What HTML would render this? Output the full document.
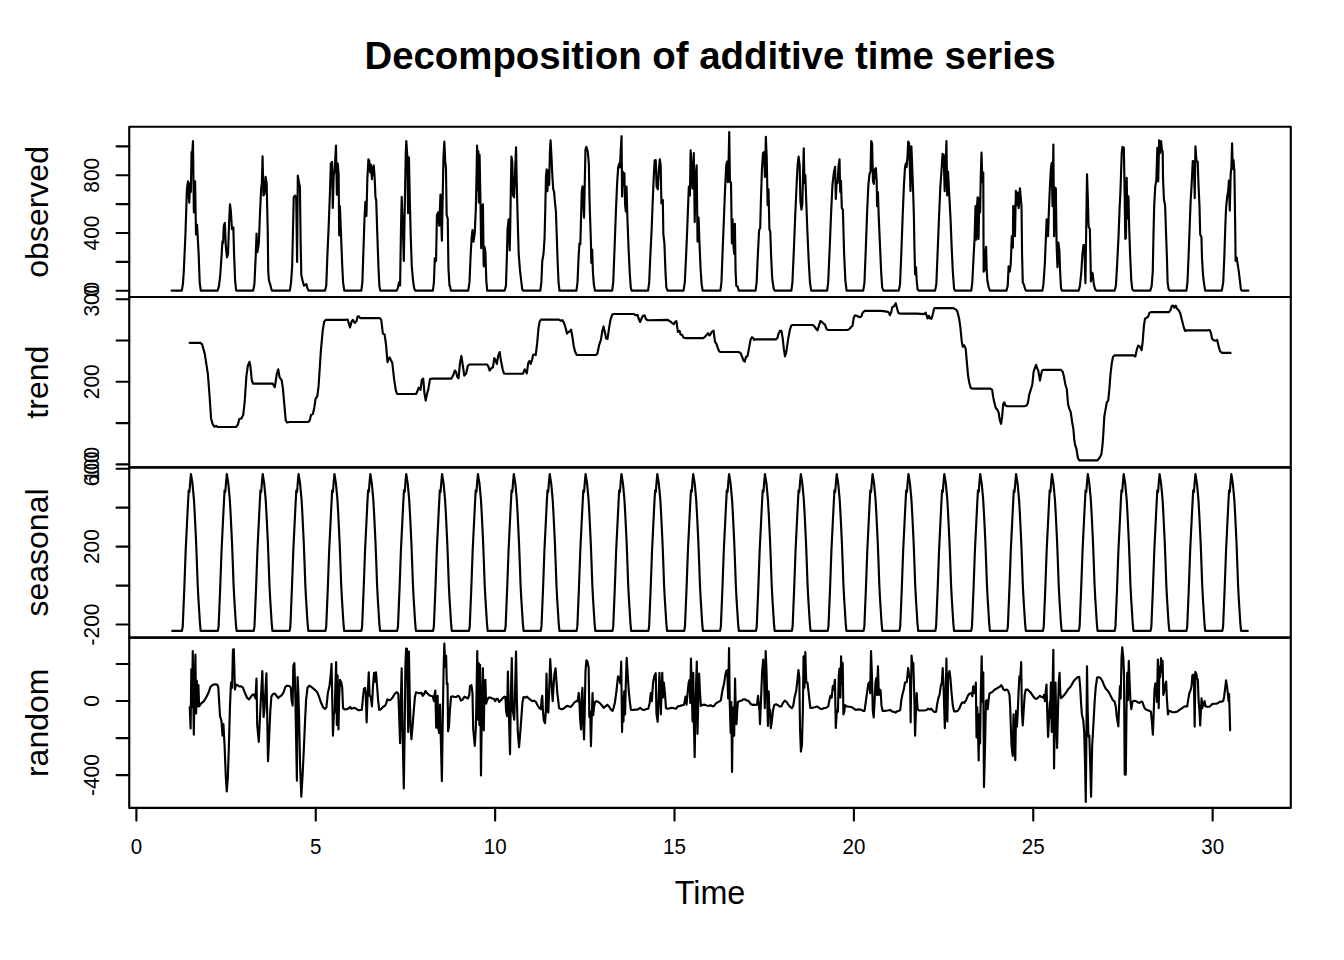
<!DOCTYPE html><html><head><meta charset="utf-8"><title>Decomposition of additive time series</title><style>html,body{margin:0;padding:0;background:#fff}svg{display:block}</style></head><body><svg width="1344" height="960" viewBox="0 0 1344 960">
<rect width="1344" height="960" fill="#fff"/>
<g fill="none" stroke="#000" stroke-width="2.15" stroke-linejoin="round" stroke-linecap="round">
<path d="M171.55 290.61 L181.82 290.61 L182.89 284.06 L183.77 271.67 L185.36 236.25 L186.25 209.69 L186.96 188.44 L188.02 181.35 L189.26 202.60 L190.15 183.12 L190.85 191.98 L191.56 152.14 L192.27 153.02 L192.98 140.98 L193.86 212.34 L195.10 181.35 L195.99 234.48 L197.05 224.74 L198.65 253.96 L199.71 282.29 L200.77 290.61 L217.59 290.61 L219.01 285.83 L220.25 275.21 L221.67 253.96 L222.38 241.56 L223.08 243.33 L223.79 225.62 L224.85 222.97 L225.74 245.10 L226.98 257.50 L228.04 253.96 L229.10 222.08 L229.99 204.38 L230.88 211.46 L231.94 229.17 L233.35 227.40 L234.06 253.96 L235.12 280.52 L236.19 290.61 L253.19 290.61 L254.43 284.06 L255.67 257.50 L256.55 233.59 L257.44 252.19 L258.85 243.33 L259.92 215.00 L261.16 188.44 L261.86 183.12 L262.57 156.21 L263.46 195.52 L264.52 193.75 L265.58 176.93 L266.65 183.12 L267.71 229.17 L268.24 271.67 L268.95 280.52 L270.36 284.95 L271.78 290.61 L289.84 290.61 L291.08 282.29 L292.15 266.35 L292.85 236.25 L293.74 197.29 L295.16 195.52 L296.22 198.18 L297.10 261.93 L297.81 175.69 L299.05 183.12 L299.94 186.67 L300.65 243.33 L301.35 275.21 L302.77 281.41 L304.01 285.83 L305.00 284.95 L306.42 284.06 L307.48 288.49 L308.54 290.61 L325.01 290.61 L326.25 285.83 L327.31 257.50 L328.55 229.17 L329.79 197.29 L330.85 163.65 L332.09 161.88 L332.80 207.92 L333.69 176.04 L334.75 168.96 L335.99 145.58 L336.88 194.64 L337.76 163.65 L338.65 174.27 L339.18 235.36 L339.89 206.15 L340.95 232.71 L342.19 264.58 L343.07 282.29 L344.31 290.61 L361.31 290.61 L362.38 282.29 L363.44 250.42 L364.50 218.54 L365.39 201.72 L366.45 215.89 L367.33 179.58 L368.40 159.22 L369.28 160.99 L370.17 172.50 L370.88 164.53 L371.94 179.23 L372.82 168.07 L373.71 165.42 L374.59 176.04 L375.48 197.29 L376.19 199.95 L377.25 232.71 L378.49 268.12 L379.38 285.83 L380.26 290.61 L396.73 290.61 L397.97 287.60 L398.85 282.65 L400.09 285.48 L400.98 229.17 L401.69 196.94 L402.75 225.62 L403.81 261.04 L404.88 200.83 L405.76 153.02 L406.29 140.98 L407.35 156.56 L408.06 213.23 L408.95 157.45 L409.83 200.83 L410.72 236.25 L411.78 266.35 L413.02 280.52 L414.08 287.60 L415.15 290.61 L432.85 290.61 L433.92 282.29 L434.80 258.39 L436.04 261.04 L436.93 215.00 L438.17 212.34 L439.23 225.62 L440.47 194.64 L441.89 240.68 L442.77 191.98 L443.48 156.56 L444.36 141.51 L445.25 161.88 L445.96 168.07 L446.67 215.00 L447.73 218.54 L448.44 268.12 L449.50 285.83 L450.00 285.83 L450.89 290.61 L468.24 290.61 L469.48 282.29 L470.54 257.50 L471.60 238.02 L472.49 230.05 L473.55 241.56 L474.79 232.71 L475.85 207.92 L476.56 174.27 L477.09 145.58 L477.80 190.21 L478.33 151.25 L478.86 202.60 L479.57 154.79 L480.46 200.83 L481.17 248.29 L482.05 207.92 L482.94 204.38 L483.65 266.35 L484.53 246.88 L485.42 252.19 L486.30 280.52 L487.19 290.61 L504.54 290.61 L505.96 285.83 L506.84 257.50 L507.55 229.17 L508.61 219.43 L509.68 250.42 L510.21 229.17 L510.92 183.12 L511.45 156.56 L512.33 161.88 L513.04 195.52 L514.10 197.29 L514.99 174.27 L516.05 147.35 L516.76 183.12 L517.65 218.54 L518.71 253.96 L519.95 269.90 L521.19 280.52 L522.25 289.38 L523.14 290.61 L540.31 290.61 L541.38 282.29 L542.26 261.04 L543.50 253.96 L544.56 238.02 L545.27 209.69 L545.98 176.04 L546.69 169.31 L547.40 191.09 L548.28 170.73 L549.17 184.90 L549.88 153.02 L550.58 140.27 L551.47 156.56 L552.35 176.04 L553.24 189.32 L554.12 191.98 L554.83 200.83 L555.90 211.46 L556.78 236.25 L557.67 262.81 L558.55 282.29 L559.44 290.61 L576.44 290.61 L577.50 282.29 L578.56 257.50 L579.45 243.33 L580.33 244.22 L581.04 218.54 L581.75 191.98 L582.46 186.31 L583.17 200.83 L584.05 217.66 L584.76 183.12 L585.47 149.48 L586.35 146.82 L587.77 151.25 L588.83 163.65 L589.54 200.83 L590.25 222.08 L590.96 243.33 L591.31 262.81 L592.20 249.53 L592.91 271.67 L593.79 284.06 L595.00 290.61 L612.18 290.61 L613.24 282.29 L614.48 250.42 L615.90 211.46 L617.14 183.12 L618.20 167.19 L619.26 163.65 L619.97 167.19 L620.68 151.25 L621.56 136.20 L622.09 196.41 L622.80 171.61 L623.69 184.90 L624.40 173.39 L625.10 204.38 L625.81 211.46 L626.52 186.67 L627.41 218.54 L628.65 250.42 L629.89 275.21 L630.77 287.60 L631.66 290.61 L648.12 290.61 L649.19 282.29 L650.25 257.50 L651.67 229.17 L652.73 200.83 L653.79 176.04 L654.68 160.46 L655.74 160.10 L656.62 186.67 L657.86 189.32 L658.75 170.73 L659.81 159.22 L660.70 165.42 L661.41 203.49 L662.82 199.95 L663.35 234.48 L664.42 243.33 L665.48 271.67 L666.36 287.60 L667.60 290.61 L683.54 290.61 L684.78 282.29 L686.02 257.50 L687.08 232.71 L688.15 204.38 L688.85 186.67 L689.92 195.52 L690.62 150.36 L691.51 161.88 L692.40 188.44 L693.28 188.44 L693.81 153.02 L694.70 222.08 L695.58 179.58 L696.65 165.42 L697.53 241.56 L698.59 217.66 L699.48 243.33 L700.54 268.12 L701.60 284.06 L702.67 290.61 L720.38 290.61 L721.44 282.29 L722.50 253.96 L723.92 218.54 L725.16 186.67 L726.22 165.42 L727.10 161.52 L727.81 182.24 L728.52 165.42 L729.23 132.12 L729.94 182.24 L731.00 182.24 L731.35 206.15 L731.89 243.33 L732.59 219.43 L733.30 243.33 L734.19 253.96 L734.90 223.85 L735.60 271.67 L736.31 285.83 L737.73 286.72 L738.79 290.61 L740.00 290.61 L755.58 290.61 L756.65 282.29 L757.71 257.50 L759.12 230.05 L760.19 228.28 L760.90 200.83 L761.96 168.96 L763.02 153.02 L764.08 152.14 L764.97 176.93 L765.85 136.73 L766.74 158.33 L767.62 205.26 L768.51 189.32 L769.40 229.17 L770.28 231.82 L771.17 257.50 L772.23 278.75 L773.65 288.49 L774.71 290.61 L791.35 290.61 L792.42 282.29 L793.83 250.42 L795.25 215.00 L796.67 183.12 L797.73 163.65 L798.61 156.56 L799.68 165.42 L800.39 200.83 L801.45 209.69 L802.33 204.38 L803.04 174.27 L803.75 148.24 L804.46 183.12 L805.34 175.16 L806.23 200.83 L807.29 229.17 L808.71 261.04 L809.95 282.29 L811.19 290.61 L827.12 290.61 L828.19 282.29 L829.60 250.42 L831.02 215.00 L832.44 184.90 L833.85 172.50 L835.09 166.83 L835.80 199.06 L836.69 181.35 L837.57 183.12 L838.46 167.19 L839.52 159.22 L840.23 191.98 L840.94 180.47 L841.82 207.92 L842.89 209.69 L844.12 253.96 L845.36 280.52 L846.60 290.61 L863.25 290.61 L864.49 282.29 L865.73 250.42 L867.15 211.46 L868.39 184.90 L869.45 174.27 L870.51 171.61 L871.22 140.98 L872.10 143.28 L872.99 181.35 L873.88 184.01 L874.76 169.84 L875.82 168.07 L876.71 181.35 L877.06 206.15 L877.95 191.98 L878.66 215.00 L879.90 243.33 L881.14 271.67 L882.20 287.60 L883.44 290.61 L885.00 290.61 L898.81 290.61 L900.05 284.06 L901.29 253.96 L902.71 215.00 L903.95 184.90 L905.01 167.19 L905.90 163.29 L906.60 167.19 L907.49 156.56 L908.20 141.51 L909.08 143.28 L909.79 165.42 L910.50 191.09 L911.39 146.29 L912.09 163.65 L912.98 186.67 L913.86 215.00 L914.40 245.10 L915.10 274.32 L915.99 267.24 L916.70 280.52 L917.58 289.38 L918.65 290.61 L935.11 290.61 L936.35 284.06 L937.42 257.50 L938.83 222.08 L940.25 188.44 L941.49 170.73 L942.55 153.91 L943.61 154.79 L944.68 191.09 L945.56 165.42 L946.45 140.98 L947.16 195.52 L948.04 171.61 L949.10 191.98 L950.52 218.54 L951.58 245.10 L952.82 271.67 L954.06 288.49 L954.95 290.61 L971.24 290.61 L972.30 282.29 L973.54 257.50 L974.60 238.02 L975.49 206.15 L976.20 239.79 L976.91 207.92 L977.61 197.29 L978.50 238.91 L979.39 198.18 L980.09 212.34 L980.80 174.27 L981.51 152.67 L982.40 182.24 L983.28 172.50 L983.64 271.67 L984.70 269.90 L985.23 253.96 L986.11 246.88 L986.65 268.12 L987.35 280.52 L988.59 286.72 L989.83 290.61 L1006.48 290.61 L1007.72 285.83 L1008.60 266.35 L1009.67 271.67 L1010.73 264.58 L1011.79 236.25 L1012.85 247.76 L1013.21 206.15 L1013.92 206.15 L1014.98 236.25 L1015.86 190.92 L1016.93 205.26 L1017.99 192.51 L1018.70 208.27 L1019.94 188.26 L1021.53 206.50 L1022.06 253.96 L1022.77 282.29 L1024.01 284.95 L1025.25 289.38 L1026.14 290.61 L1030.00 290.61 L1042.40 290.61 L1043.46 284.06 L1044.88 262.81 L1045.94 236.25 L1046.65 219.43 L1047.35 236.25 L1048.06 236.25 L1048.77 213.23 L1049.83 188.44 L1050.90 168.07 L1051.78 162.76 L1052.49 206.15 L1053.38 144.52 L1054.08 236.25 L1054.97 187.55 L1055.85 188.44 L1056.56 243.33 L1057.45 267.24 L1058.33 242.45 L1059.40 250.42 L1060.10 271.67 L1060.99 287.60 L1061.88 290.61 L1078.70 290.61 L1079.94 285.83 L1081.35 271.67 L1082.42 253.96 L1083.48 245.10 L1084.36 245.10 L1085.43 283.18 L1086.31 222.08 L1087.02 174.27 L1087.91 200.83 L1088.61 226.51 L1089.85 229.17 L1090.39 253.96 L1090.92 281.41 L1091.80 272.55 L1092.69 273.44 L1093.75 284.06 L1095.17 289.38 L1096.58 290.61 L1114.65 290.61 L1115.89 285.83 L1117.12 264.58 L1118.54 236.25 L1119.60 207.92 L1120.31 194.64 L1121.02 174.27 L1121.73 153.02 L1122.44 146.82 L1123.85 147.71 L1124.56 188.44 L1125.27 238.91 L1125.98 238.02 L1126.69 177.81 L1127.40 218.54 L1128.46 196.41 L1129.17 227.40 L1130.23 257.50 L1131.29 280.52 L1132.35 289.38 L1133.42 290.61 L1150.27 290.61 L1151.69 285.83 L1152.75 271.67 L1153.46 236.25 L1154.17 206.15 L1155.23 186.67 L1156.29 180.47 L1157.35 147.71 L1158.24 181.35 L1159.12 140.27 L1160.19 153.02 L1161.07 140.98 L1161.96 150.36 L1162.67 151.25 L1163.02 177.81 L1163.91 199.06 L1165.15 206.15 L1166.03 232.71 L1166.92 257.50 L1167.62 282.29 L1168.69 289.38 L1169.75 290.61 L1186.40 290.61 L1187.46 282.29 L1188.52 257.50 L1189.58 229.17 L1190.65 200.83 L1191.71 183.12 L1192.77 160.99 L1193.83 161.52 L1194.72 198.18 L1195.43 146.29 L1196.49 160.99 L1197.73 161.88 L1198.44 183.12 L1199.50 206.15 L1200.21 234.48 L1201.45 237.14 L1201.98 257.50 L1203.04 275.21 L1204.10 284.06 L1205.17 290.61 L1221.81 290.61 L1223.23 282.29 L1224.29 257.50 L1225.35 225.62 L1226.06 207.92 L1227.12 197.29 L1228.19 191.09 L1228.90 180.47 L1229.78 210.57 L1230.67 174.27 L1231.38 167.19 L1232.08 143.28 L1232.79 168.96 L1233.50 160.10 L1234.39 170.73 L1235.09 218.54 L1235.62 261.04 L1236.69 257.50 L1237.75 264.58 L1238.81 271.67 L1239.88 280.52 L1240.94 289.38 L1241.82 290.61 L1248.38 290.61"/>
<path d="M189.64 342.89 L200.36 342.89 L202.14 344.32 L204.82 354.14 L207.86 373.79 L209.64 397.00 L211.07 418.43 L212.50 423.79 L214.29 426.82 L216.07 425.93 L217.86 427.00 L236.07 427.00 L237.86 424.68 L239.29 418.96 L241.43 418.43 L243.21 414.86 L244.64 402.36 L246.43 375.57 L247.86 365.75 L249.46 361.82 L250.36 365.75 L251.79 380.04 L253.04 383.61 L272.68 383.61 L274.82 387.18 L276.79 373.79 L278.21 369.32 L279.64 377.36 L281.61 380.04 L282.86 388.07 L284.29 404.14 L285.71 420.21 L286.96 422.54 L289.64 422.00 L308.39 422.00 L309.82 420.21 L311.07 414.86 L312.86 413.96 L314.29 407.71 L315.54 398.79 L317.32 396.11 L318.57 386.29 L320.89 350.57 L322.68 330.93 L324.11 322.00 L325.71 319.86 L345.00 319.86 L347.68 319.50 L350.00 327.36 L351.79 321.11 L352.86 319.86 L354.82 322.89 L356.61 321.11 L357.50 316.64 L358.93 316.29 L360.18 318.07 L379.82 318.07 L381.25 319.86 L382.86 333.61 L384.64 334.50 L386.07 345.21 L387.50 362.18 L389.64 357.36 L392.32 363.07 L394.11 379.14 L395.89 390.75 L397.14 393.96 L400.00 393.96 L416.07 393.96 L417.50 390.75 L418.75 387.71 L420.54 389.86 L421.79 380.04 L423.21 378.61 L424.46 393.43 L425.71 400.57 L427.14 393.43 L428.21 389.86 L430.00 379.14 L432.14 378.61 L451.43 378.61 L453.04 375.57 L454.82 370.57 L456.07 372.00 L457.14 376.46 L458.57 378.25 L460.00 363.07 L461.43 355.93 L462.86 365.75 L464.29 375.57 L466.07 373.79 L467.86 365.75 L469.29 364.50 L487.14 364.50 L488.39 366.64 L489.64 370.57 L491.43 368.07 L492.86 367.54 L494.29 358.07 L495.71 360.39 L496.79 363.96 L498.21 355.93 L499.64 352.00 L501.07 361.29 L502.68 369.32 L503.93 373.43 L505.36 373.79 L522.86 373.79 L524.64 369.32 L526.79 373.43 L528.21 363.07 L529.46 360.93 L530.71 363.96 L532.14 359.50 L533.04 355.04 L534.29 354.50 L535.71 355.04 L537.14 343.43 L538.57 327.36 L539.82 321.11 L541.07 319.68 L558.93 319.68 L560.71 320.75 L562.50 320.21 L564.29 323.79 L565.71 328.25 L566.96 333.61 L568.75 331.82 L570.00 331.29 L571.07 329.68 L572.32 336.29 L573.57 345.21 L575.00 351.46 L576.79 355.04 L595.54 355.04 L597.32 353.79 L599.11 345.21 L600.89 339.86 L602.32 330.93 L603.57 326.46 L605.00 332.71 L606.25 338.43 L607.50 338.96 L608.93 329.14 L610.36 320.21 L612.14 314.86 L613.39 313.96 L630.00 313.96 L633.57 313.96 L635.36 315.21 L637.50 314.86 L638.93 319.32 L640.18 322.00 L641.61 318.43 L642.86 315.75 L644.64 315.39 L646.07 319.32 L647.86 320.21 L667.86 319.86 L669.64 321.11 L671.07 322.00 L672.50 323.43 L673.75 324.14 L675.00 322.00 L676.43 321.11 L677.86 331.82 L679.64 330.93 L680.54 334.50 L682.14 334.86 L683.57 337.71 L685.36 338.07 L703.57 338.07 L705.36 336.29 L706.79 334.86 L708.04 333.25 L709.46 335.39 L710.36 334.50 L711.79 331.82 L713.57 330.57 L715.00 341.64 L716.61 344.32 L718.04 348.79 L719.29 351.46 L720.71 352.00 L738.57 352.00 L740.71 353.25 L742.14 356.82 L743.39 360.39 L744.64 361.64 L746.07 356.82 L747.50 356.29 L748.93 348.79 L750.54 339.86 L751.96 337.18 L753.21 338.07 L754.11 339.86 L755.89 339.32 L776.07 339.32 L777.50 337.71 L778.57 333.61 L780.00 330.93 L781.43 330.93 L782.68 338.07 L783.93 349.68 L785.00 356.29 L786.25 352.36 L788.04 339.86 L789.82 330.04 L791.25 325.57 L792.86 325.04 L812.50 325.04 L814.29 326.11 L816.07 328.79 L817.50 330.39 L818.93 325.57 L820.36 321.11 L821.79 321.64 L823.21 323.43 L825.00 324.68 L826.43 328.79 L828.21 330.04 L847.50 330.04 L849.29 329.14 L851.07 327.00 L852.50 325.93 L853.75 317.54 L855.00 315.39 L856.79 315.75 L858.21 316.64 L860.00 317.18 L860.00 317.18 L861.43 316.29 L862.68 312.71 L864.46 310.93 L881.43 310.93 L886.79 311.64 L888.57 312.18 L890.00 315.21 L891.25 312.18 L892.14 307.36 L893.93 306.29 L895.71 303.25 L897.14 308.61 L898.39 313.07 L900.18 313.61 L917.14 313.61 L923.93 314.14 L925.71 312.71 L927.50 318.43 L928.75 315.75 L930.00 318.43 L931.43 318.79 L932.86 313.96 L934.11 308.61 L935.36 308.07 L952.86 308.07 L955.54 309.14 L957.32 311.29 L959.11 318.43 L960.36 327.36 L961.79 341.64 L962.68 346.64 L964.11 345.21 L965.71 348.79 L966.79 361.29 L968.04 375.57 L969.29 382.71 L970.71 388.07 L972.50 388.61 L990.36 388.61 L992.14 389.86 L993.21 397.00 L994.29 402.36 L995.71 407.71 L997.14 409.50 L998.57 412.18 L999.82 420.21 L1001.07 423.79 L1002.14 416.64 L1003.21 404.14 L1004.29 402.36 L1005.54 405.57 L1007.32 406.29 L1024.29 406.29 L1026.43 405.57 L1027.86 403.25 L1029.29 394.32 L1030.71 389.86 L1032.32 384.50 L1033.57 372.00 L1035.00 367.54 L1036.07 364.86 L1037.14 368.43 L1038.21 370.21 L1039.11 375.57 L1040.00 380.57 L1040.89 375.57 L1042.14 370.21 L1043.93 369.86 L1060.89 369.86 L1062.68 371.64 L1063.93 376.46 L1065.36 384.50 L1066.79 388.96 L1068.04 404.14 L1069.29 408.61 L1070.71 412.18 L1072.14 422.00 L1073.39 429.14 L1074.29 439.86 L1075.18 445.21 L1076.43 448.79 L1077.86 457.71 L1079.29 460.39 L1097.50 460.39 L1099.64 457.71 L1101.43 454.14 L1102.50 445.21 L1103.39 432.71 L1104.29 416.64 L1105.54 409.50 L1106.79 402.36 L1108.21 400.57 L1109.29 389.86 L1110.54 373.79 L1111.79 363.07 L1113.04 356.82 L1114.46 355.39 L1133.57 355.39 L1135.36 356.46 L1136.79 349.68 L1138.21 345.57 L1139.82 346.64 L1141.61 350.21 L1142.68 341.64 L1143.93 325.57 L1145.00 318.79 L1146.61 317.54 L1148.04 317.00 L1149.29 313.07 L1150.71 312.18 L1168.93 312.18 L1170.36 310.39 L1171.79 305.93 L1173.04 305.57 L1174.29 307.71 L1175.71 305.57 L1176.96 308.61 L1178.75 310.39 L1180.18 313.07 L1181.96 320.21 L1183.57 326.46 L1185.00 330.93 L1186.79 330.39 L1207.32 330.39 L1209.64 330.04 L1210.89 332.71 L1212.14 338.96 L1213.93 340.39 L1215.71 340.75 L1217.14 339.86 L1218.57 346.11 L1220.18 351.46 L1222.14 352.89 L1230.54 352.89"/>
<path d="M172.26 630.90 L173.01 630.90 L173.76 630.90 L174.50 630.90 L175.25 630.90 L176.00 630.90 L176.74 630.90 L177.49 630.90 L178.24 630.90 L178.99 630.90 L179.73 630.90 L180.48 630.90 L181.23 630.90 L181.98 630.90 L182.72 626.50 L183.47 608.40 L184.22 590.40 L184.97 570.00 L185.71 549.50 L186.46 534.40 L187.21 519.20 L187.96 504.00 L188.70 490.30 L189.45 492.00 L190.20 482.20 L190.95 474.00 L191.69 478.60 L192.44 483.30 L193.19 491.40 L193.93 499.60 L194.68 512.70 L195.43 527.90 L196.18 543.80 L196.92 563.40 L197.67 584.50 L198.42 598.90 L199.17 610.80 L199.91 622.80 L200.66 630.90 L201.41 630.90 L202.16 630.90 L202.90 630.90 L203.65 630.90 L204.40 630.90 L205.15 630.90 L205.89 630.90 L206.64 630.90 L207.39 630.90 L208.14 630.90 L208.88 630.90 L209.63 630.90 L210.38 630.90 L211.12 630.90 L211.87 630.90 L212.62 630.90 L213.37 630.90 L214.11 630.90 L214.86 630.90 L215.61 630.90 L216.36 630.90 L217.10 630.90 L217.85 630.90 L218.60 626.50 L219.35 608.40 L220.09 590.40 L220.84 570.00 L221.59 549.50 L222.34 534.40 L223.08 519.20 L223.83 504.00 L224.58 490.30 L225.33 492.00 L226.07 482.20 L226.82 474.00 L227.57 478.60 L228.31 483.30 L229.06 491.40 L229.81 499.60 L230.56 512.70 L231.30 527.90 L232.05 543.80 L232.80 563.40 L233.55 584.50 L234.29 598.90 L235.04 610.80 L235.79 622.80 L236.54 630.90 L237.28 630.90 L238.03 630.90 L238.78 630.90 L239.53 630.90 L240.27 630.90 L241.02 630.90 L241.77 630.90 L242.52 630.90 L243.26 630.90 L244.01 630.90 L244.76 630.90 L245.51 630.90 L246.25 630.90 L247.00 630.90 L247.75 630.90 L248.49 630.90 L249.24 630.90 L249.99 630.90 L250.74 630.90 L251.48 630.90 L252.23 630.90 L252.98 630.90 L253.73 630.90 L254.47 626.50 L255.22 608.40 L255.97 590.40 L256.72 570.00 L257.46 549.50 L258.21 534.40 L258.96 519.20 L259.71 504.00 L260.45 490.30 L261.20 492.00 L261.95 482.20 L262.70 474.00 L263.44 478.60 L264.19 483.30 L264.94 491.40 L265.68 499.60 L266.43 512.70 L267.18 527.90 L267.93 543.80 L268.67 563.40 L269.42 584.50 L270.17 598.90 L270.92 610.80 L271.66 622.80 L272.41 630.90 L273.16 630.90 L273.91 630.90 L274.65 630.90 L275.40 630.90 L276.15 630.90 L276.90 630.90 L277.64 630.90 L278.39 630.90 L279.14 630.90 L279.89 630.90 L280.63 630.90 L281.38 630.90 L282.13 630.90 L282.87 630.90 L283.62 630.90 L284.37 630.90 L285.12 630.90 L285.86 630.90 L286.61 630.90 L287.36 630.90 L288.11 630.90 L288.85 630.90 L289.60 630.90 L290.35 626.50 L291.10 608.40 L291.84 590.40 L292.59 570.00 L293.34 549.50 L294.09 534.40 L294.83 519.20 L295.58 504.00 L296.33 490.30 L297.08 492.00 L297.82 482.20 L298.57 474.00 L299.32 478.60 L300.06 483.30 L300.81 491.40 L301.56 499.60 L302.31 512.70 L303.05 527.90 L303.80 543.80 L304.55 563.40 L305.30 584.50 L306.04 598.90 L306.79 610.80 L307.54 622.80 L308.29 630.90 L309.03 630.90 L309.78 630.90 L310.53 630.90 L311.28 630.90 L312.02 630.90 L312.77 630.90 L313.52 630.90 L314.27 630.90 L315.01 630.90 L315.76 630.90 L316.51 630.90 L317.26 630.90 L318.00 630.90 L318.75 630.90 L319.50 630.90 L320.24 630.90 L320.99 630.90 L321.74 630.90 L322.49 630.90 L323.23 630.90 L323.98 630.90 L324.73 630.90 L325.48 630.90 L326.22 626.50 L326.97 608.40 L327.72 590.40 L328.47 570.00 L329.21 549.50 L329.96 534.40 L330.71 519.20 L331.46 504.00 L332.20 490.30 L332.95 492.00 L333.70 482.20 L334.45 474.00 L335.19 478.60 L335.94 483.30 L336.69 491.40 L337.43 499.60 L338.18 512.70 L338.93 527.90 L339.68 543.80 L340.42 563.40 L341.17 584.50 L341.92 598.90 L342.67 610.80 L343.41 622.80 L344.16 630.90 L344.91 630.90 L345.66 630.90 L346.40 630.90 L347.15 630.90 L347.90 630.90 L348.65 630.90 L349.39 630.90 L350.14 630.90 L350.89 630.90 L351.64 630.90 L352.38 630.90 L353.13 630.90 L353.88 630.90 L354.62 630.90 L355.37 630.90 L356.12 630.90 L356.87 630.90 L357.61 630.90 L358.36 630.90 L359.11 630.90 L359.86 630.90 L360.60 630.90 L361.35 630.90 L362.10 626.50 L362.85 608.40 L363.59 590.40 L364.34 570.00 L365.09 549.50 L365.84 534.40 L366.58 519.20 L367.33 504.00 L368.08 490.30 L368.83 492.00 L369.57 482.20 L370.32 474.00 L371.07 478.60 L371.81 483.30 L372.56 491.40 L373.31 499.60 L374.06 512.70 L374.80 527.90 L375.55 543.80 L376.30 563.40 L377.05 584.50 L377.79 598.90 L378.54 610.80 L379.29 622.80 L380.04 630.90 L380.78 630.90 L381.53 630.90 L382.28 630.90 L383.03 630.90 L383.77 630.90 L384.52 630.90 L385.27 630.90 L386.02 630.90 L386.76 630.90 L387.51 630.90 L388.26 630.90 L389.01 630.90 L389.75 630.90 L390.50 630.90 L391.25 630.90 L391.99 630.90 L392.74 630.90 L393.49 630.90 L394.24 630.90 L394.98 630.90 L395.73 630.90 L396.48 630.90 L397.23 630.90 L397.97 626.50 L398.72 608.40 L399.47 590.40 L400.22 570.00 L400.96 549.50 L401.71 534.40 L402.46 519.20 L403.21 504.00 L403.95 490.30 L404.70 492.00 L405.45 482.20 L406.20 474.00 L406.94 478.60 L407.69 483.30 L408.44 491.40 L409.18 499.60 L409.93 512.70 L410.68 527.90 L411.43 543.80 L412.17 563.40 L412.92 584.50 L413.67 598.90 L414.42 610.80 L415.16 622.80 L415.91 630.90 L416.66 630.90 L417.41 630.90 L418.15 630.90 L418.90 630.90 L419.65 630.90 L420.40 630.90 L421.14 630.90 L421.89 630.90 L422.64 630.90 L423.39 630.90 L424.13 630.90 L424.88 630.90 L425.63 630.90 L426.37 630.90 L427.12 630.90 L427.87 630.90 L428.62 630.90 L429.36 630.90 L430.11 630.90 L430.86 630.90 L431.61 630.90 L432.35 630.90 L433.10 630.90 L433.85 626.50 L434.60 608.40 L435.34 590.40 L436.09 570.00 L436.84 549.50 L437.59 534.40 L438.33 519.20 L439.08 504.00 L439.83 490.30 L440.58 492.00 L441.32 482.20 L442.07 474.00 L442.82 478.60 L443.56 483.30 L444.31 491.40 L445.06 499.60 L445.81 512.70 L446.55 527.90 L447.30 543.80 L448.05 563.40 L448.80 584.50 L449.54 598.90 L450.29 610.80 L451.04 622.80 L451.79 630.90 L452.53 630.90 L453.28 630.90 L454.03 630.90 L454.78 630.90 L455.52 630.90 L456.27 630.90 L457.02 630.90 L457.77 630.90 L458.51 630.90 L459.26 630.90 L460.01 630.90 L460.76 630.90 L461.50 630.90 L462.25 630.90 L463.00 630.90 L463.74 630.90 L464.49 630.90 L465.24 630.90 L465.99 630.90 L466.73 630.90 L467.48 630.90 L468.23 630.90 L468.98 630.90 L469.72 626.50 L470.47 608.40 L471.22 590.40 L471.97 570.00 L472.71 549.50 L473.46 534.40 L474.21 519.20 L474.96 504.00 L475.70 490.30 L476.45 492.00 L477.20 482.20 L477.95 474.00 L478.69 478.60 L479.44 483.30 L480.19 491.40 L480.93 499.60 L481.68 512.70 L482.43 527.90 L483.18 543.80 L483.92 563.40 L484.67 584.50 L485.42 598.90 L486.17 610.80 L486.91 622.80 L487.66 630.90 L488.41 630.90 L489.16 630.90 L489.90 630.90 L490.65 630.90 L491.40 630.90 L492.15 630.90 L492.89 630.90 L493.64 630.90 L494.39 630.90 L495.14 630.90 L495.88 630.90 L496.63 630.90 L497.38 630.90 L498.12 630.90 L498.87 630.90 L499.62 630.90 L500.37 630.90 L501.11 630.90 L501.86 630.90 L502.61 630.90 L503.36 630.90 L504.10 630.90 L504.85 630.90 L505.60 626.50 L506.35 608.40 L507.09 590.40 L507.84 570.00 L508.59 549.50 L509.34 534.40 L510.08 519.20 L510.83 504.00 L511.58 490.30 L512.33 492.00 L513.07 482.20 L513.82 474.00 L514.57 478.60 L515.31 483.30 L516.06 491.40 L516.81 499.60 L517.56 512.70 L518.30 527.90 L519.05 543.80 L519.80 563.40 L520.55 584.50 L521.29 598.90 L522.04 610.80 L522.79 622.80 L523.54 630.90 L524.28 630.90 L525.03 630.90 L525.78 630.90 L526.53 630.90 L527.27 630.90 L528.02 630.90 L528.77 630.90 L529.52 630.90 L530.26 630.90 L531.01 630.90 L531.76 630.90 L532.51 630.90 L533.25 630.90 L534.00 630.90 L534.75 630.90 L535.49 630.90 L536.24 630.90 L536.99 630.90 L537.74 630.90 L538.48 630.90 L539.23 630.90 L539.98 630.90 L540.73 630.90 L541.47 626.50 L542.22 608.40 L542.97 590.40 L543.72 570.00 L544.46 549.50 L545.21 534.40 L545.96 519.20 L546.71 504.00 L547.45 490.30 L548.20 492.00 L548.95 482.20 L549.70 474.00 L550.44 478.60 L551.19 483.30 L551.94 491.40 L552.68 499.60 L553.43 512.70 L554.18 527.90 L554.93 543.80 L555.67 563.40 L556.42 584.50 L557.17 598.90 L557.92 610.80 L558.66 622.80 L559.41 630.90 L560.16 630.90 L560.91 630.90 L561.65 630.90 L562.40 630.90 L563.15 630.90 L563.90 630.90 L564.64 630.90 L565.39 630.90 L566.14 630.90 L566.89 630.90 L567.63 630.90 L568.38 630.90 L569.13 630.90 L569.87 630.90 L570.62 630.90 L571.37 630.90 L572.12 630.90 L572.86 630.90 L573.61 630.90 L574.36 630.90 L575.11 630.90 L575.85 630.90 L576.60 630.90 L577.35 626.50 L578.10 608.40 L578.84 590.40 L579.59 570.00 L580.34 549.50 L581.09 534.40 L581.83 519.20 L582.58 504.00 L583.33 490.30 L584.08 492.00 L584.82 482.20 L585.57 474.00 L586.32 478.60 L587.06 483.30 L587.81 491.40 L588.56 499.60 L589.31 512.70 L590.05 527.90 L590.80 543.80 L591.55 563.40 L592.30 584.50 L593.04 598.90 L593.79 610.80 L594.54 622.80 L595.29 630.90 L596.03 630.90 L596.78 630.90 L597.53 630.90 L598.28 630.90 L599.02 630.90 L599.77 630.90 L600.52 630.90 L601.27 630.90 L602.01 630.90 L602.76 630.90 L603.51 630.90 L604.26 630.90 L605.00 630.90 L605.75 630.90 L606.50 630.90 L607.24 630.90 L607.99 630.90 L608.74 630.90 L609.49 630.90 L610.23 630.90 L610.98 630.90 L611.73 630.90 L612.48 630.90 L613.22 626.50 L613.97 608.40 L614.72 590.40 L615.47 570.00 L616.21 549.50 L616.96 534.40 L617.71 519.20 L618.46 504.00 L619.20 490.30 L619.95 492.00 L620.70 482.20 L621.45 474.00 L622.19 478.60 L622.94 483.30 L623.69 491.40 L624.43 499.60 L625.18 512.70 L625.93 527.90 L626.68 543.80 L627.42 563.40 L628.17 584.50 L628.92 598.90 L629.67 610.80 L630.41 622.80 L631.16 630.90 L631.91 630.90 L632.66 630.90 L633.40 630.90 L634.15 630.90 L634.90 630.90 L635.65 630.90 L636.39 630.90 L637.14 630.90 L637.89 630.90 L638.64 630.90 L639.38 630.90 L640.13 630.90 L640.88 630.90 L641.62 630.90 L642.37 630.90 L643.12 630.90 L643.87 630.90 L644.61 630.90 L645.36 630.90 L646.11 630.90 L646.86 630.90 L647.60 630.90 L648.35 630.90 L649.10 626.50 L649.85 608.40 L650.59 590.40 L651.34 570.00 L652.09 549.50 L652.84 534.40 L653.58 519.20 L654.33 504.00 L655.08 490.30 L655.83 492.00 L656.57 482.20 L657.32 474.00 L658.07 478.60 L658.81 483.30 L659.56 491.40 L660.31 499.60 L661.06 512.70 L661.80 527.90 L662.55 543.80 L663.30 563.40 L664.05 584.50 L664.79 598.90 L665.54 610.80 L666.29 622.80 L667.04 630.90 L667.78 630.90 L668.53 630.90 L669.28 630.90 L670.03 630.90 L670.77 630.90 L671.52 630.90 L672.27 630.90 L673.02 630.90 L673.76 630.90 L674.51 630.90 L675.26 630.90 L676.01 630.90 L676.75 630.90 L677.50 630.90 L678.25 630.90 L678.99 630.90 L679.74 630.90 L680.49 630.90 L681.24 630.90 L681.98 630.90 L682.73 630.90 L683.48 630.90 L684.23 630.90 L684.97 626.50 L685.72 608.40 L686.47 590.40 L687.22 570.00 L687.96 549.50 L688.71 534.40 L689.46 519.20 L690.21 504.00 L690.95 490.30 L691.70 492.00 L692.45 482.20 L693.20 474.00 L693.94 478.60 L694.69 483.30 L695.44 491.40 L696.18 499.60 L696.93 512.70 L697.68 527.90 L698.43 543.80 L699.17 563.40 L699.92 584.50 L700.67 598.90 L701.42 610.80 L702.16 622.80 L702.91 630.90 L703.66 630.90 L704.41 630.90 L705.15 630.90 L705.90 630.90 L706.65 630.90 L707.40 630.90 L708.14 630.90 L708.89 630.90 L709.64 630.90 L710.39 630.90 L711.13 630.90 L711.88 630.90 L712.63 630.90 L713.37 630.90 L714.12 630.90 L714.87 630.90 L715.62 630.90 L716.36 630.90 L717.11 630.90 L717.86 630.90 L718.61 630.90 L719.35 630.90 L720.10 630.90 L720.85 626.50 L721.60 608.40 L722.34 590.40 L723.09 570.00 L723.84 549.50 L724.59 534.40 L725.33 519.20 L726.08 504.00 L726.83 490.30 L727.58 492.00 L728.32 482.20 L729.07 474.00 L729.82 478.60 L730.56 483.30 L731.31 491.40 L732.06 499.60 L732.81 512.70 L733.55 527.90 L734.30 543.80 L735.05 563.40 L735.80 584.50 L736.54 598.90 L737.29 610.80 L738.04 622.80 L738.79 630.90 L739.53 630.90 L740.28 630.90 L741.03 630.90 L741.78 630.90 L742.52 630.90 L743.27 630.90 L744.02 630.90 L744.77 630.90 L745.51 630.90 L746.26 630.90 L747.01 630.90 L747.76 630.90 L748.50 630.90 L749.25 630.90 L750.00 630.90 L750.74 630.90 L751.49 630.90 L752.24 630.90 L752.99 630.90 L753.73 630.90 L754.48 630.90 L755.23 630.90 L755.98 630.90 L756.72 626.50 L757.47 608.40 L758.22 590.40 L758.97 570.00 L759.71 549.50 L760.46 534.40 L761.21 519.20 L761.96 504.00 L762.70 490.30 L763.45 492.00 L764.20 482.20 L764.95 474.00 L765.69 478.60 L766.44 483.30 L767.19 491.40 L767.93 499.60 L768.68 512.70 L769.43 527.90 L770.18 543.80 L770.92 563.40 L771.67 584.50 L772.42 598.90 L773.17 610.80 L773.91 622.80 L774.66 630.90 L775.41 630.90 L776.16 630.90 L776.90 630.90 L777.65 630.90 L778.40 630.90 L779.15 630.90 L779.89 630.90 L780.64 630.90 L781.39 630.90 L782.14 630.90 L782.88 630.90 L783.63 630.90 L784.38 630.90 L785.12 630.90 L785.87 630.90 L786.62 630.90 L787.37 630.90 L788.11 630.90 L788.86 630.90 L789.61 630.90 L790.36 630.90 L791.10 630.90 L791.85 630.90 L792.60 626.50 L793.35 608.40 L794.09 590.40 L794.84 570.00 L795.59 549.50 L796.34 534.40 L797.08 519.20 L797.83 504.00 L798.58 490.30 L799.33 492.00 L800.07 482.20 L800.82 474.00 L801.57 478.60 L802.31 483.30 L803.06 491.40 L803.81 499.60 L804.56 512.70 L805.30 527.90 L806.05 543.80 L806.80 563.40 L807.55 584.50 L808.29 598.90 L809.04 610.80 L809.79 622.80 L810.54 630.90 L811.28 630.90 L812.03 630.90 L812.78 630.90 L813.53 630.90 L814.27 630.90 L815.02 630.90 L815.77 630.90 L816.52 630.90 L817.26 630.90 L818.01 630.90 L818.76 630.90 L819.51 630.90 L820.25 630.90 L821.00 630.90 L821.75 630.90 L822.49 630.90 L823.24 630.90 L823.99 630.90 L824.74 630.90 L825.48 630.90 L826.23 630.90 L826.98 630.90 L827.73 630.90 L828.47 626.50 L829.22 608.40 L829.97 590.40 L830.72 570.00 L831.46 549.50 L832.21 534.40 L832.96 519.20 L833.71 504.00 L834.45 490.30 L835.20 492.00 L835.95 482.20 L836.70 474.00 L837.44 478.60 L838.19 483.30 L838.94 491.40 L839.68 499.60 L840.43 512.70 L841.18 527.90 L841.93 543.80 L842.67 563.40 L843.42 584.50 L844.17 598.90 L844.92 610.80 L845.66 622.80 L846.41 630.90 L847.16 630.90 L847.91 630.90 L848.65 630.90 L849.40 630.90 L850.15 630.90 L850.90 630.90 L851.64 630.90 L852.39 630.90 L853.14 630.90 L853.89 630.90 L854.63 630.90 L855.38 630.90 L856.13 630.90 L856.87 630.90 L857.62 630.90 L858.37 630.90 L859.12 630.90 L859.86 630.90 L860.61 630.90 L861.36 630.90 L862.11 630.90 L862.85 630.90 L863.60 630.90 L864.35 626.50 L865.10 608.40 L865.84 590.40 L866.59 570.00 L867.34 549.50 L868.09 534.40 L868.83 519.20 L869.58 504.00 L870.33 490.30 L871.08 492.00 L871.82 482.20 L872.57 474.00 L873.32 478.60 L874.06 483.30 L874.81 491.40 L875.56 499.60 L876.31 512.70 L877.05 527.90 L877.80 543.80 L878.55 563.40 L879.30 584.50 L880.04 598.90 L880.79 610.80 L881.54 622.80 L882.29 630.90 L883.03 630.90 L883.78 630.90 L884.53 630.90 L885.28 630.90 L886.02 630.90 L886.77 630.90 L887.52 630.90 L888.27 630.90 L889.01 630.90 L889.76 630.90 L890.51 630.90 L891.26 630.90 L892.00 630.90 L892.75 630.90 L893.50 630.90 L894.24 630.90 L894.99 630.90 L895.74 630.90 L896.49 630.90 L897.23 630.90 L897.98 630.90 L898.73 630.90 L899.48 630.90 L900.22 626.50 L900.97 608.40 L901.72 590.40 L902.47 570.00 L903.21 549.50 L903.96 534.40 L904.71 519.20 L905.46 504.00 L906.20 490.30 L906.95 492.00 L907.70 482.20 L908.45 474.00 L909.19 478.60 L909.94 483.30 L910.69 491.40 L911.43 499.60 L912.18 512.70 L912.93 527.90 L913.68 543.80 L914.42 563.40 L915.17 584.50 L915.92 598.90 L916.67 610.80 L917.41 622.80 L918.16 630.90 L918.91 630.90 L919.66 630.90 L920.40 630.90 L921.15 630.90 L921.90 630.90 L922.65 630.90 L923.39 630.90 L924.14 630.90 L924.89 630.90 L925.64 630.90 L926.38 630.90 L927.13 630.90 L927.88 630.90 L928.62 630.90 L929.37 630.90 L930.12 630.90 L930.87 630.90 L931.61 630.90 L932.36 630.90 L933.11 630.90 L933.86 630.90 L934.60 630.90 L935.35 630.90 L936.10 626.50 L936.85 608.40 L937.59 590.40 L938.34 570.00 L939.09 549.50 L939.84 534.40 L940.58 519.20 L941.33 504.00 L942.08 490.30 L942.83 492.00 L943.57 482.20 L944.32 474.00 L945.07 478.60 L945.81 483.30 L946.56 491.40 L947.31 499.60 L948.06 512.70 L948.80 527.90 L949.55 543.80 L950.30 563.40 L951.05 584.50 L951.79 598.90 L952.54 610.80 L953.29 622.80 L954.04 630.90 L954.78 630.90 L955.53 630.90 L956.28 630.90 L957.03 630.90 L957.77 630.90 L958.52 630.90 L959.27 630.90 L960.02 630.90 L960.76 630.90 L961.51 630.90 L962.26 630.90 L963.01 630.90 L963.75 630.90 L964.50 630.90 L965.25 630.90 L965.99 630.90 L966.74 630.90 L967.49 630.90 L968.24 630.90 L968.98 630.90 L969.73 630.90 L970.48 630.90 L971.23 630.90 L971.97 626.50 L972.72 608.40 L973.47 590.40 L974.22 570.00 L974.96 549.50 L975.71 534.40 L976.46 519.20 L977.21 504.00 L977.95 490.30 L978.70 492.00 L979.45 482.20 L980.20 474.00 L980.94 478.60 L981.69 483.30 L982.44 491.40 L983.18 499.60 L983.93 512.70 L984.68 527.90 L985.43 543.80 L986.17 563.40 L986.92 584.50 L987.67 598.90 L988.42 610.80 L989.16 622.80 L989.91 630.90 L990.66 630.90 L991.41 630.90 L992.15 630.90 L992.90 630.90 L993.65 630.90 L994.40 630.90 L995.14 630.90 L995.89 630.90 L996.64 630.90 L997.39 630.90 L998.13 630.90 L998.88 630.90 L999.63 630.90 L1000.37 630.90 L1001.12 630.90 L1001.87 630.90 L1002.62 630.90 L1003.36 630.90 L1004.11 630.90 L1004.86 630.90 L1005.61 630.90 L1006.35 630.90 L1007.10 630.90 L1007.85 626.50 L1008.60 608.40 L1009.34 590.40 L1010.09 570.00 L1010.84 549.50 L1011.59 534.40 L1012.33 519.20 L1013.08 504.00 L1013.83 490.30 L1014.58 492.00 L1015.32 482.20 L1016.07 474.00 L1016.82 478.60 L1017.56 483.30 L1018.31 491.40 L1019.06 499.60 L1019.81 512.70 L1020.55 527.90 L1021.30 543.80 L1022.05 563.40 L1022.80 584.50 L1023.54 598.90 L1024.29 610.80 L1025.04 622.80 L1025.79 630.90 L1026.53 630.90 L1027.28 630.90 L1028.03 630.90 L1028.78 630.90 L1029.52 630.90 L1030.27 630.90 L1031.02 630.90 L1031.77 630.90 L1032.51 630.90 L1033.26 630.90 L1034.01 630.90 L1034.76 630.90 L1035.50 630.90 L1036.25 630.90 L1037.00 630.90 L1037.74 630.90 L1038.49 630.90 L1039.24 630.90 L1039.99 630.90 L1040.73 630.90 L1041.48 630.90 L1042.23 630.90 L1042.98 630.90 L1043.72 626.50 L1044.47 608.40 L1045.22 590.40 L1045.97 570.00 L1046.71 549.50 L1047.46 534.40 L1048.21 519.20 L1048.96 504.00 L1049.70 490.30 L1050.45 492.00 L1051.20 482.20 L1051.95 474.00 L1052.69 478.60 L1053.44 483.30 L1054.19 491.40 L1054.93 499.60 L1055.68 512.70 L1056.43 527.90 L1057.18 543.80 L1057.92 563.40 L1058.67 584.50 L1059.42 598.90 L1060.17 610.80 L1060.91 622.80 L1061.66 630.90 L1062.41 630.90 L1063.16 630.90 L1063.90 630.90 L1064.65 630.90 L1065.40 630.90 L1066.15 630.90 L1066.89 630.90 L1067.64 630.90 L1068.39 630.90 L1069.14 630.90 L1069.88 630.90 L1070.63 630.90 L1071.38 630.90 L1072.12 630.90 L1072.87 630.90 L1073.62 630.90 L1074.37 630.90 L1075.11 630.90 L1075.86 630.90 L1076.61 630.90 L1077.36 630.90 L1078.10 630.90 L1078.85 630.90 L1079.60 626.50 L1080.35 608.40 L1081.09 590.40 L1081.84 570.00 L1082.59 549.50 L1083.34 534.40 L1084.08 519.20 L1084.83 504.00 L1085.58 490.30 L1086.33 492.00 L1087.07 482.20 L1087.82 474.00 L1088.57 478.60 L1089.31 483.30 L1090.06 491.40 L1090.81 499.60 L1091.56 512.70 L1092.30 527.90 L1093.05 543.80 L1093.80 563.40 L1094.55 584.50 L1095.29 598.90 L1096.04 610.80 L1096.79 622.80 L1097.54 630.90 L1098.28 630.90 L1099.03 630.90 L1099.78 630.90 L1100.53 630.90 L1101.27 630.90 L1102.02 630.90 L1102.77 630.90 L1103.52 630.90 L1104.26 630.90 L1105.01 630.90 L1105.76 630.90 L1106.51 630.90 L1107.25 630.90 L1108.00 630.90 L1108.75 630.90 L1109.49 630.90 L1110.24 630.90 L1110.99 630.90 L1111.74 630.90 L1112.48 630.90 L1113.23 630.90 L1113.98 630.90 L1114.73 630.90 L1115.47 626.50 L1116.22 608.40 L1116.97 590.40 L1117.72 570.00 L1118.46 549.50 L1119.21 534.40 L1119.96 519.20 L1120.71 504.00 L1121.45 490.30 L1122.20 492.00 L1122.95 482.20 L1123.70 474.00 L1124.44 478.60 L1125.19 483.30 L1125.94 491.40 L1126.68 499.60 L1127.43 512.70 L1128.18 527.90 L1128.93 543.80 L1129.67 563.40 L1130.42 584.50 L1131.17 598.90 L1131.92 610.80 L1132.66 622.80 L1133.41 630.90 L1134.16 630.90 L1134.91 630.90 L1135.65 630.90 L1136.40 630.90 L1137.15 630.90 L1137.90 630.90 L1138.64 630.90 L1139.39 630.90 L1140.14 630.90 L1140.89 630.90 L1141.63 630.90 L1142.38 630.90 L1143.13 630.90 L1143.87 630.90 L1144.62 630.90 L1145.37 630.90 L1146.12 630.90 L1146.86 630.90 L1147.61 630.90 L1148.36 630.90 L1149.11 630.90 L1149.85 630.90 L1150.60 630.90 L1151.35 626.50 L1152.10 608.40 L1152.84 590.40 L1153.59 570.00 L1154.34 549.50 L1155.09 534.40 L1155.83 519.20 L1156.58 504.00 L1157.33 490.30 L1158.08 492.00 L1158.82 482.20 L1159.57 474.00 L1160.32 478.60 L1161.06 483.30 L1161.81 491.40 L1162.56 499.60 L1163.31 512.70 L1164.05 527.90 L1164.80 543.80 L1165.55 563.40 L1166.30 584.50 L1167.04 598.90 L1167.79 610.80 L1168.54 622.80 L1169.29 630.90 L1170.03 630.90 L1170.78 630.90 L1171.53 630.90 L1172.28 630.90 L1173.02 630.90 L1173.77 630.90 L1174.52 630.90 L1175.27 630.90 L1176.01 630.90 L1176.76 630.90 L1177.51 630.90 L1178.26 630.90 L1179.00 630.90 L1179.75 630.90 L1180.50 630.90 L1181.24 630.90 L1181.99 630.90 L1182.74 630.90 L1183.49 630.90 L1184.23 630.90 L1184.98 630.90 L1185.73 630.90 L1186.48 630.90 L1187.22 626.50 L1187.97 608.40 L1188.72 590.40 L1189.47 570.00 L1190.21 549.50 L1190.96 534.40 L1191.71 519.20 L1192.46 504.00 L1193.20 490.30 L1193.95 492.00 L1194.70 482.20 L1195.45 474.00 L1196.19 478.60 L1196.94 483.30 L1197.69 491.40 L1198.43 499.60 L1199.18 512.70 L1199.93 527.90 L1200.68 543.80 L1201.42 563.40 L1202.17 584.50 L1202.92 598.90 L1203.67 610.80 L1204.41 622.80 L1205.16 630.90 L1205.91 630.90 L1206.66 630.90 L1207.40 630.90 L1208.15 630.90 L1208.90 630.90 L1209.65 630.90 L1210.39 630.90 L1211.14 630.90 L1211.89 630.90 L1212.64 630.90 L1213.38 630.90 L1214.13 630.90 L1214.88 630.90 L1215.62 630.90 L1216.37 630.90 L1217.12 630.90 L1217.87 630.90 L1218.61 630.90 L1219.36 630.90 L1220.11 630.90 L1220.86 630.90 L1221.60 630.90 L1222.35 630.90 L1223.10 626.50 L1223.85 608.40 L1224.59 590.40 L1225.34 570.00 L1226.09 549.50 L1226.84 534.40 L1227.58 519.20 L1228.33 504.00 L1229.08 490.30 L1229.83 492.00 L1230.57 482.20 L1231.32 474.00 L1232.07 478.60 L1232.81 483.30 L1233.56 491.40 L1234.31 499.60 L1235.06 512.70 L1235.80 527.90 L1236.55 543.80 L1237.30 563.40 L1238.05 584.50 L1238.79 598.90 L1239.54 610.80 L1240.29 622.80 L1241.04 630.90 L1241.78 630.90 L1242.53 630.90 L1243.28 630.90 L1244.03 630.90 L1244.77 630.90 L1245.52 630.90 L1246.27 630.90 L1247.02 630.90 L1247.76 630.90"/>
<path d="M189.74 707.29 L190.62 728.54 L191.33 669.22 L192.04 707.29 L192.75 650.98 L193.81 734.74 L194.52 693.12 L195.41 654.52 L196.11 713.49 L196.82 680.73 L197.53 706.41 L198.42 685.16 L199.12 706.41 L201.25 703.40 L203.91 701.09 L206.56 696.67 L208.69 692.24 L210.46 686.93 L212.23 685.16 L214.53 684.27 L217.19 684.62 L218.25 686.93 L218.96 698.44 L220.02 716.15 L221.44 720.57 L222.50 735.62 L223.39 724.11 L224.62 746.25 L225.69 774.58 L226.75 791.41 L227.81 778.12 L228.88 746.25 L229.94 707.29 L231.00 682.50 L232.06 687.81 L232.95 649.74 L233.83 649.21 L234.90 689.58 L235.96 684.62 L237.55 685.16 L239.32 686.40 L241.09 686.40 L242.86 687.46 L244.64 692.24 L246.94 697.55 L249.06 699.32 L250.83 697.02 L252.25 694.90 L254.02 694.54 L255.44 698.44 L256.50 678.60 L257.21 725.00 L258.80 741.82 L260.04 716.15 L261.10 694.90 L262.34 670.99 L263.58 717.03 L264.65 707.29 L265.53 689.58 L266.42 673.29 L267.12 710.83 L268.01 761.30 L269.07 739.17 L270.31 710.83 L271.38 696.67 L272.97 694.01 L274.74 693.48 L276.51 695.78 L278.28 698.08 L280.05 696.31 L281.82 695.25 L283.59 692.24 L285.36 686.93 L287.14 685.69 L289.44 686.04 L290.85 687.81 L291.56 700.21 L292.62 705.52 L293.33 665.68 L294.40 663.02 L295.28 693.12 L295.99 732.08 L296.88 780.78 L297.58 677.19 L298.29 691.35 L299.00 714.38 L300.06 763.96 L301.30 796.72 L302.54 776.35 L303.96 746.25 L305.02 721.46 L306.08 700.21 L307.50 687.81 L309.27 685.69 L311.93 687.46 L314.58 689.58 L317.24 692.24 L319.01 696.67 L320.78 701.98 L323.08 707.29 L325.00 709.06 L326.42 707.29 L327.83 693.12 L329.60 685.16 L330.67 675.42 L331.55 663.91 L332.26 698.44 L332.97 735.62 L333.85 714.38 L334.74 711.72 L335.45 684.27 L336.16 662.14 L336.86 725.00 L337.57 675.42 L338.46 729.43 L339.17 696.67 L340.05 679.84 L341.29 682.50 L342.18 686.93 L343.06 708.18 L344.48 709.42 L347.14 709.06 L348.91 708.18 L350.15 706.94 L351.56 708.71 L352.98 708.18 L354.75 707.82 L356.52 709.06 L358.65 710.30 L360.42 709.95 L361.83 709.95 L362.90 698.44 L363.96 688.70 L365.02 687.81 L365.73 693.12 L366.61 722.34 L367.50 698.44 L368.74 672.23 L369.62 695.78 L370.69 696.67 L371.93 706.41 L372.99 686.04 L374.05 672.76 L375.11 681.61 L376.00 672.41 L377.06 686.04 L378.12 700.21 L379.19 709.95 L380.60 709.42 L382.02 708.18 L383.44 706.41 L384.85 705.88 L386.09 703.75 L387.33 699.32 L388.75 700.21 L390.52 699.85 L392.29 698.08 L394.06 694.90 L395.83 692.59 L397.25 692.24 L398.31 694.01 L399.02 710.83 L400.08 743.24 L400.79 701.98 L401.68 668.33 L402.56 732.08 L403.80 788.40 L404.69 728.54 L405.40 666.56 L406.10 648.50 L406.99 648.85 L407.70 694.90 L408.23 732.08 L408.94 651.51 L409.65 693.12 L410.53 725.00 L411.42 739.17 L412.66 725.00 L413.90 709.06 L414.96 696.67 L416.02 692.24 L417.44 692.77 L418.85 693.12 L420.27 693.12 L421.51 692.77 L422.75 695.78 L424.17 694.01 L425.41 691.00 L426.82 692.77 L428.59 694.54 L430.36 695.78 L432.67 696.31 L433.91 701.09 L434.79 693.12 L435.32 690.47 L436.21 727.66 L436.92 698.44 L437.62 695.78 L438.33 728.54 L439.22 732.97 L440.10 704.64 L440.99 746.25 L441.88 781.14 L442.76 719.69 L443.65 666.56 L444.35 643.54 L445.24 666.56 L446.12 655.94 L446.83 684.27 L447.54 683.39 L448.07 731.20 L448.96 726.77 L449.84 710.83 L451.08 696.67 L452.50 696.31 L454.27 697.02 L456.04 697.02 L457.81 695.78 L459.23 696.67 L461.00 700.56 L462.77 699.32 L464.54 696.67 L466.31 697.55 L468.08 698.44 L469.32 694.90 L470.00 686.04 L471.42 685.16 L472.48 693.12 L473.19 728.54 L474.78 745.90 L475.84 728.54 L476.55 693.12 L477.26 650.98 L477.97 719.69 L478.68 663.02 L479.39 725.00 L480.09 664.79 L480.98 775.47 L481.86 710.83 L482.93 668.33 L483.81 730.31 L484.52 680.73 L485.41 679.84 L486.11 703.75 L487.18 700.21 L488.59 697.55 L490.36 697.55 L492.14 698.44 L493.91 698.79 L495.15 701.09 L496.56 698.79 L497.98 699.32 L499.22 701.98 L500.99 700.21 L502.76 698.08 L504.53 696.67 L505.42 697.02 L506.12 710.83 L507.01 716.15 L507.90 671.52 L508.78 710.83 L510.02 754.22 L510.91 693.12 L511.79 658.06 L512.68 710.83 L513.39 714.38 L514.27 719.69 L514.98 693.12 L516.04 651.51 L516.93 701.98 L517.81 732.08 L519.05 747.14 L520.29 732.08 L521.35 717.92 L522.42 702.86 L523.48 697.02 L525.25 697.55 L527.02 696.67 L528.79 698.44 L530.56 699.85 L532.33 701.09 L534.10 700.74 L535.88 701.98 L537.65 705.52 L539.42 708.18 L540.83 709.06 L541.54 700.21 L542.25 695.78 L542.96 710.83 L543.84 720.57 L545.08 723.23 L545.79 710.83 L546.50 673.65 L547.39 710.83 L548.27 712.60 L549.16 691.35 L550.22 659.12 L551.10 675.42 L551.99 691.35 L552.70 701.09 L553.58 686.04 L554.47 673.65 L555.53 668.33 L556.42 680.73 L557.30 693.12 L558.19 700.21 L559.07 708.18 L560.67 709.06 L562.44 709.06 L564.21 708.18 L565.98 706.41 L567.40 705.88 L569.17 706.41 L570.94 706.94 L572.71 704.64 L574.48 702.33 L576.25 701.09 L577.67 701.09 L578.73 692.77 L579.44 701.98 L580.15 719.69 L581.03 729.43 L581.74 696.67 L582.45 687.81 L583.16 719.69 L584.04 739.52 L584.75 710.83 L585.46 671.88 L586.34 660.36 L587.41 661.25 L588.65 667.45 L589.35 717.03 L590.24 711.72 L590.95 746.25 L591.66 719.69 L592.54 693.12 L593.25 715.26 L593.96 707.29 L595.02 701.98 L596.61 701.09 L598.39 701.98 L600.16 703.40 L601.93 705.52 L603.70 707.82 L605.47 706.41 L607.24 704.64 L609.01 706.41 L610.78 709.42 L612.55 710.83 L613.79 707.29 L615.00 701.98 L616.42 691.35 L618.01 676.30 L619.25 678.07 L620.31 683.39 L621.20 661.60 L622.08 732.08 L622.79 696.67 L623.50 721.46 L624.21 691.35 L625.09 714.38 L625.80 684.27 L626.69 657.71 L627.75 675.42 L628.81 691.35 L629.88 701.98 L630.94 709.95 L632.71 709.95 L635.36 709.59 L638.02 709.42 L640.15 707.82 L641.92 709.42 L644.22 709.95 L646.52 709.06 L648.29 708.71 L649.53 703.75 L650.77 693.12 L651.83 701.09 L653.07 682.50 L654.31 676.30 L655.73 673.11 L656.44 713.49 L657.68 721.81 L658.56 698.44 L659.45 672.76 L660.16 693.12 L660.86 714.38 L661.57 689.58 L662.28 672.76 L662.99 697.55 L663.88 682.50 L664.94 693.12 L666.00 708.18 L667.77 708.71 L669.90 708.18 L672.02 707.82 L673.79 708.18 L676.09 708.71 L677.86 706.41 L680.17 705.88 L682.29 705.17 L684.06 704.64 L685.48 696.67 L686.54 704.64 L687.60 693.12 L688.67 682.50 L689.55 679.84 L690.26 702.86 L690.97 658.59 L691.85 693.12 L692.56 721.46 L693.27 672.76 L693.98 728.54 L694.69 757.23 L695.40 710.83 L696.10 684.27 L696.81 661.60 L697.52 733.85 L698.23 701.98 L699.11 673.65 L700.00 693.12 L700.89 705.88 L702.12 705.17 L704.43 704.64 L706.73 705.52 L708.85 705.88 L710.62 705.17 L712.40 706.41 L714.17 705.88 L715.58 703.75 L717.71 702.33 L719.83 701.09 L720.90 700.21 L721.96 693.12 L723.02 687.81 L724.08 683.39 L725.15 676.30 L726.21 670.99 L727.27 670.10 L728.16 698.44 L729.04 647.97 L729.75 701.98 L730.64 732.97 L731.34 701.98 L732.05 771.93 L732.76 714.38 L733.47 707.29 L734.18 735.62 L735.06 678.60 L735.77 710.83 L736.48 724.11 L737.19 710.83 L737.90 701.98 L739.84 701.09 L741.61 700.56 L743.39 699.32 L745.16 699.32 L746.93 700.56 L748.70 701.09 L750.47 703.75 L752.24 704.99 L754.01 704.64 L755.78 704.99 L757.02 704.64 L758.08 695.78 L758.79 704.64 L759.50 710.83 L760.00 724.11 L761.06 698.44 L762.12 671.88 L763.19 659.48 L764.07 675.42 L764.78 708.18 L765.67 650.98 L766.55 671.88 L767.26 701.98 L767.97 725.89 L768.68 691.35 L769.39 710.83 L770.09 709.95 L770.80 728.19 L771.86 721.46 L772.93 710.83 L774.17 705.17 L775.94 704.28 L777.71 704.99 L779.48 706.41 L781.25 706.41 L783.02 702.86 L784.79 700.56 L786.56 701.98 L788.33 704.64 L790.10 706.94 L791.88 708.18 L793.29 705.52 L794.71 696.67 L796.12 691.35 L797.19 682.50 L798.43 670.10 L799.31 677.19 L800.02 728.54 L800.91 751.56 L801.97 744.48 L802.85 710.83 L803.56 656.29 L804.45 687.81 L805.33 652.04 L806.22 682.50 L807.46 682.50 L808.70 693.12 L810.29 707.82 L812.24 707.82 L814.90 707.29 L817.02 706.41 L818.44 707.29 L820.21 708.71 L821.98 709.06 L823.75 708.18 L825.88 707.82 L828.18 706.41 L829.42 700.21 L830.48 695.78 L831.72 697.55 L832.78 686.04 L833.67 689.58 L834.91 679.84 L835.79 728.01 L836.85 710.83 L837.92 711.72 L838.80 675.42 L839.51 668.69 L840.40 697.55 L841.10 656.29 L841.99 684.27 L842.70 663.02 L843.41 714.38 L844.29 711.72 L845.00 705.17 L846.77 706.41 L849.43 706.76 L852.08 707.29 L853.85 708.71 L855.62 709.95 L858.28 709.42 L860.94 709.59 L863.06 710.83 L864.48 710.83 L865.54 703.75 L866.96 693.12 L868.38 683.39 L869.26 682.50 L870.15 693.12 L871.03 650.98 L871.92 675.42 L872.80 710.83 L873.69 717.39 L874.57 701.98 L875.46 682.50 L876.34 678.07 L877.05 694.90 L877.94 666.21 L878.82 694.90 L879.71 689.58 L880.59 690.47 L881.48 705.52 L882.54 710.83 L884.84 710.83 L887.50 710.48 L890.16 709.95 L891.93 711.36 L893.70 711.72 L895.47 712.60 L897.24 711.19 L899.01 710.83 L900.25 709.95 L901.31 700.21 L902.55 694.01 L903.79 689.58 L905.00 682.50 L906.77 682.15 L908.19 667.98 L909.25 677.19 L909.96 675.42 L910.67 722.34 L911.55 655.58 L912.44 664.79 L913.32 663.02 L914.21 693.12 L915.09 735.62 L915.98 710.83 L916.69 693.12 L917.57 709.06 L918.81 710.48 L921.82 710.48 L924.48 710.48 L926.60 709.95 L928.02 708.71 L929.79 709.42 L931.21 708.71 L932.98 710.83 L934.75 712.07 L936.17 711.72 L937.23 703.75 L938.29 698.44 L939.53 694.90 L940.77 686.04 L941.83 682.50 L942.72 667.98 L943.60 687.81 L944.84 728.19 L945.73 693.12 L946.44 658.59 L947.32 721.46 L948.21 675.42 L949.45 670.99 L950.51 678.96 L951.57 693.12 L952.81 705.52 L954.05 711.36 L956.00 711.36 L957.77 710.83 L959.54 708.18 L961.31 703.75 L962.55 702.33 L964.32 702.86 L966.09 700.21 L967.86 695.78 L969.64 693.48 L971.41 693.12 L972.29 696.31 L973.18 686.40 L974.06 693.12 L974.95 691.35 L975.83 682.50 L976.54 737.40 L977.25 707.29 L977.96 728.54 L978.67 760.42 L979.38 714.38 L980.08 743.59 L980.79 693.12 L981.68 656.29 L982.56 701.98 L983.27 672.41 L983.98 786.98 L985.04 746.25 L985.93 701.09 L986.81 700.21 L987.70 709.06 L988.58 700.21 L989.47 693.48 L991.24 692.59 L993.01 691.35 L994.78 689.58 L996.55 688.70 L998.32 687.46 L999.74 686.93 L1001.16 685.16 L1002.40 686.93 L1003.46 689.58 L1005.05 690.11 L1006.82 689.58 L1008.24 691.00 L1009.48 694.90 L1010.19 707.29 L1010.90 728.54 L1011.60 746.25 L1012.67 755.99 L1013.55 714.38 L1014.44 749.79 L1015.32 760.06 L1016.03 710.83 L1016.92 726.77 L1017.80 710.83 L1018.51 693.12 L1019.40 676.30 L1020.28 678.96 L1021.17 662.14 L1021.88 710.83 L1022.76 725.35 L1023.65 710.83 L1024.71 694.90 L1025.77 689.58 L1027.54 689.58 L1029.31 691.35 L1031.08 693.12 L1032.85 695.78 L1034.62 698.08 L1036.40 698.97 L1038.17 697.55 L1039.94 695.78 L1041.71 697.02 L1043.12 697.55 L1044.01 694.90 L1044.90 701.09 L1045.60 693.12 L1046.49 684.62 L1047.20 710.83 L1048.08 737.04 L1048.97 719.69 L1049.85 701.98 L1050.00 717.92 L1050.89 682.50 L1051.77 732.08 L1052.48 693.12 L1053.36 649.74 L1054.07 768.39 L1054.78 710.83 L1055.49 682.50 L1056.38 728.54 L1057.08 748.02 L1057.97 710.83 L1058.85 680.73 L1059.56 672.76 L1060.27 693.12 L1060.98 698.08 L1062.75 696.67 L1065.05 694.01 L1066.82 691.35 L1068.59 688.70 L1070.36 686.93 L1072.14 683.92 L1073.91 680.73 L1075.68 678.96 L1077.45 677.19 L1079.22 676.83 L1080.10 686.04 L1080.99 701.98 L1081.88 714.38 L1083.29 720.57 L1084.18 732.08 L1085.06 763.96 L1085.77 802.03 L1086.48 728.54 L1087.01 666.21 L1087.72 710.83 L1088.43 736.51 L1089.31 735.62 L1090.20 763.96 L1091.08 796.72 L1092.15 746.25 L1093.39 725.00 L1094.62 701.98 L1095.69 687.81 L1097.10 677.54 L1098.70 677.19 L1100.47 678.07 L1102.24 680.73 L1104.01 685.16 L1105.78 688.70 L1107.55 690.47 L1109.32 693.12 L1111.09 696.67 L1112.86 700.21 L1114.64 701.62 L1115.88 707.29 L1116.94 717.92 L1118.35 726.42 L1119.24 701.98 L1119.95 686.04 L1120.66 698.44 L1121.54 657.71 L1122.25 647.44 L1123.31 657.71 L1124.02 675.42 L1124.73 774.58 L1125.79 774.58 L1126.50 710.83 L1127.21 672.76 L1127.92 700.21 L1128.80 660.90 L1129.69 684.27 L1130.40 700.21 L1131.28 709.06 L1132.52 701.62 L1134.11 700.74 L1135.89 701.09 L1137.66 702.33 L1139.43 702.86 L1141.20 701.62 L1142.44 701.98 L1143.85 706.41 L1145.27 709.06 L1147.04 709.95 L1149.17 710.83 L1150.94 711.72 L1151.82 721.46 L1152.89 734.74 L1153.77 710.83 L1154.48 689.58 L1155.36 683.39 L1156.25 693.12 L1156.96 701.98 L1157.84 659.48 L1158.73 708.18 L1159.44 666.56 L1160.15 677.19 L1161.03 658.06 L1161.92 671.88 L1162.62 660.90 L1163.33 694.90 L1164.22 691.35 L1165.10 685.16 L1166.17 681.61 L1166.88 698.44 L1167.94 714.38 L1169.00 710.83 L1170.77 711.36 L1172.54 712.25 L1174.31 712.25 L1176.08 711.90 L1177.85 711.19 L1179.62 709.95 L1181.40 708.71 L1183.17 707.29 L1184.94 706.41 L1187.24 706.41 L1188.12 700.21 L1189.36 693.12 L1190.78 689.58 L1191.67 685.16 L1192.38 675.42 L1193.44 674.53 L1193.97 684.27 L1194.68 726.77 L1195.39 671.88 L1196.27 673.65 L1196.98 678.07 L1197.86 679.84 L1198.57 700.21 L1199.46 710.83 L1200.17 725.53 L1200.88 710.83 L1201.58 698.44 L1202.29 708.18 L1203.00 702.86 L1203.71 705.52 L1204.59 701.09 L1205.52 706.41 L1207.29 706.76 L1209.42 706.76 L1210.83 705.52 L1212.25 704.10 L1214.38 703.75 L1216.50 703.75 L1218.27 702.86 L1220.04 701.62 L1221.81 701.62 L1223.23 701.09 L1224.11 696.67 L1225.00 689.58 L1226.06 680.38 L1226.95 686.04 L1227.83 693.12 L1228.54 701.09 L1229.07 694.01 L1229.60 710.83 L1230.14 730.31"/>
<rect x="129.24" y="126.72" width="1161.54" height="170.31"/>
<rect x="129.24" y="297.02" width="1161.54" height="170.31"/>
<rect x="129.24" y="467.33" width="1161.54" height="170.31"/>
<rect x="129.24" y="637.63" width="1161.54" height="170.31"/>
<path d="M129.24 290.75 H116.57"/>
<path d="M129.24 261.88 H116.57"/>
<path d="M129.24 233.02 H116.57"/>
<path d="M129.24 204.15 H116.57"/>
<path d="M129.24 175.29 H116.57"/>
<path d="M129.24 146.42 H116.57"/>
<path d="M129.24 299.20 H116.57"/>
<path d="M129.24 340.49 H116.57"/>
<path d="M129.24 381.78 H116.57"/>
<path d="M129.24 423.07 H116.57"/>
<path d="M129.24 464.36 H116.57"/>
<path d="M129.24 468.75 H116.57"/>
<path d="M129.24 507.69 H116.57"/>
<path d="M129.24 546.63 H116.57"/>
<path d="M129.24 585.56 H116.57"/>
<path d="M129.24 624.50 H116.57"/>
<path d="M129.24 663.95 H116.57"/>
<path d="M129.24 701.00 H116.57"/>
<path d="M129.24 738.05 H116.57"/>
<path d="M129.24 775.10 H116.57"/>
<path d="M136.39 807.94 V820.61"/>
<path d="M315.76 807.94 V820.61"/>
<path d="M495.14 807.94 V820.61"/>
<path d="M674.51 807.94 V820.61"/>
<path d="M853.89 807.94 V820.61"/>
<path d="M1033.26 807.94 V820.61"/>
<path d="M1212.64 807.94 V820.61"/>
</g>
<g font-family="'Liberation Sans', sans-serif" fill="#000">
<text transform="translate(98.80 290.75) rotate(-90) scale(0.945 1)" text-anchor="middle" font-size="22.10">0</text>
<text transform="translate(98.80 233.02) rotate(-90) scale(0.945 1)" text-anchor="middle" font-size="22.10">400</text>
<text transform="translate(98.80 175.29) rotate(-90) scale(0.945 1)" text-anchor="middle" font-size="22.10">800</text>
<text transform="translate(98.80 299.20) rotate(-90) scale(0.945 1)" text-anchor="middle" font-size="22.10">300</text>
<text transform="translate(98.80 381.78) rotate(-90) scale(0.945 1)" text-anchor="middle" font-size="22.10">200</text>
<text transform="translate(98.80 464.36) rotate(-90) scale(0.945 1)" text-anchor="middle" font-size="22.10">100</text>
<text transform="translate(98.80 468.75) rotate(-90) scale(0.945 1)" text-anchor="middle" font-size="22.10">600</text>
<text transform="translate(98.80 546.63) rotate(-90) scale(0.945 1)" text-anchor="middle" font-size="22.10">200</text>
<text transform="translate(98.80 624.50) rotate(-90) scale(0.945 1)" text-anchor="middle" font-size="22.10">-200</text>
<text transform="translate(98.80 701.00) rotate(-90) scale(0.945 1)" text-anchor="middle" font-size="22.10">0</text>
<text transform="translate(98.80 775.10) rotate(-90) scale(0.945 1)" text-anchor="middle" font-size="22.10">-400</text>
<text transform="translate(136.39 853.6) scale(0.93 1)" text-anchor="middle" font-size="22.10">0</text>
<text transform="translate(315.76 853.6) scale(0.93 1)" text-anchor="middle" font-size="22.10">5</text>
<text transform="translate(495.14 853.6) scale(0.93 1)" text-anchor="middle" font-size="22.10">10</text>
<text transform="translate(674.51 853.6) scale(0.93 1)" text-anchor="middle" font-size="22.10">15</text>
<text transform="translate(853.89 853.6) scale(0.93 1)" text-anchor="middle" font-size="22.10">20</text>
<text transform="translate(1033.26 853.6) scale(0.93 1)" text-anchor="middle" font-size="22.10">25</text>
<text transform="translate(1212.64 853.6) scale(0.93 1)" text-anchor="middle" font-size="22.10">30</text>
<text transform="translate(48.10 211.87) rotate(-90) scale(1 1)" text-anchor="middle" font-size="32.00">observed</text>
<text transform="translate(48.10 382.18) rotate(-90) scale(1 1)" text-anchor="middle" font-size="32.00">trend</text>
<text transform="translate(48.10 552.48) rotate(-90) scale(1 1)" text-anchor="middle" font-size="32.00">seasonal</text>
<text transform="translate(48.10 722.79) rotate(-90) scale(1 1)" text-anchor="middle" font-size="32.00">random</text>
<text transform="translate(710.01 903.7) scale(1.01 1.04)" text-anchor="middle" font-size="32">Time</text>
<text x="710.01" y="69.0" text-anchor="middle" font-size="38.4" font-weight="bold">Decomposition of additive time series</text>
</g></svg></body></html>
